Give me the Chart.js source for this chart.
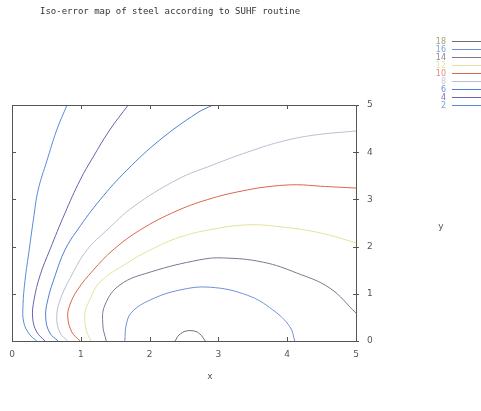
<!DOCTYPE html>
<html>
<head>
<meta charset="utf-8">
<script src="https://cdn.jsdelivr.net/npm/chart.js@4.4.1/dist/chart.umd.min.js"></script>
<style>
  html, body { margin: 0; padding: 0; background: #fff; }
  #wrap { width: 481px; height: 411px; }
</style>
</head>
<body>
<div id="wrap"><canvas id="isoChart" width="481" height="411"></canvas></div>
<script>
// chart text
const titleText = 'Iso-error map of steel according to SUHF routine';
const xTicks = [0, 1, 2, 3, 4, 5];
const yTicks = [0, 1, 2, 3, 4, 5];

// contour levels, in legend order
const levels = [18, 16, 14, 12, 10, 8, 6, 4, 2];
const levelColors = ['#6e6e6e', '#6f90d8', '#7a7890', '#e4e29a', '#d8684e', '#bdbdd0', '#4f7fd0', '#6a60b4', '#5b8bd6'];
const labelColors = ['#a3a37a', '#7ea2e0', '#8a8a9a', '#e6e4a8', '#e08a78', '#c8c8d8', '#6a92d8', '#7c74c0', '#78a0dc'];

// iso-error lines, [x, y]
const lvl18 = [[2.37, 0], [2.43, 0.13], [2.53, 0.21], [2.65, 0.21], [2.73, 0.15], [2.81, 0]];
const lvl16 = [[4.11, 0], [4.04, 0.30], [3.79, 0.66], [3.42, 0.97], [2.88, 1.14], [2.44, 1.08], [2.01, 0.87], [1.74, 0.61], [1.66, 0.34], [1.64, 0]];
const lvl14 = [[5.0, 0.59], [4.62, 1.12], [4.14, 1.44], [3.65, 1.67], [3.07, 1.76], [2.73, 1.72], [2.01, 1.46], [1.57, 1.19], [1.35, 0.76], [1.32, 0.34], [1.37, 0]];
const lvl12 = [[5.0, 2.08], [4.48, 2.29], [3.90, 2.42], [3.42, 2.46], [2.92, 2.37], [2.44, 2.2], [2.01, 1.93], [1.67, 1.65], [1.28, 1.25], [1.13, 0.87], [1.06, 0.59], [1.08, 0.23], [1.15, 0]];
const lvl10 = [[5.0, 3.24], [4.48, 3.28], [4.14, 3.31], [3.79, 3.28], [3.42, 3.2], [2.92, 3.03], [2.40, 2.76], [1.86, 2.35], [1.47, 1.93], [1.18, 1.5], [0.95, 1.08], [0.84, 0.76], [0.81, 0.51], [0.87, 0.19], [0.99, 0]];
const lvl8 = [[5.0, 4.45], [4.38, 4.36], [3.90, 4.22], [3.42, 4.0], [2.92, 3.73], [2.40, 3.42], [1.76, 2.84], [1.38, 2.35], [1.09, 1.93], [0.87, 1.4], [0.70, 0.87], [0.65, 0.49], [0.70, 0.17], [0.81, 0]];
const lvl6 = [[2.92, 5.0], [2.69, 4.83], [2.15, 4.26], [1.67, 3.62], [1.28, 2.99], [0.95, 2.35], [0.77, 1.93], [0.63, 1.4], [0.52, 0.87], [0.49, 0.49], [0.55, 0.17], [0.67, 0]];
const lvl4 = [[1.69, 5.0], [1.42, 4.47], [1.18, 3.9], [0.99, 3.41], [0.77, 2.71], [0.55, 1.93], [0.41, 1.4], [0.32, 0.87], [0.30, 0.49], [0.36, 0.19], [0.48, 0]];
const lvl2 = [[0.80, 5.0], [0.65, 4.47], [0.51, 3.83], [0.38, 3.2], [0.31, 2.56], [0.25, 1.93], [0.19, 1.29], [0.16, 0.76], [0.17, 0.4], [0.25, 0.15], [0.36, 0]];

const lines = [lvl18, lvl16, lvl14, lvl12, lvl10, lvl8, lvl6, lvl4, lvl2];

const datasets = levels.map((lv, i) => ({
    label: String(lv),
    data: lines[i].map(p => ({ x: p[0], y: p[1] })),
    borderColor: levelColors[i],
    borderWidth: 1,
    showLine: true,
    tension: 0.4,
    pointRadius: 0,
    fill: false
}));

// frame, inward ticks, title, legend, axis names
const gnuplotLook = {
    id: 'gnuplotLook',
    afterDatasetsDraw(chart) {
        const ctx = chart.ctx;
        const a = chart.chartArea;
        const xs = chart.scales.x, ys = chart.scales.y;
        ctx.save();
        ctx.strokeStyle = '#555';
        ctx.lineWidth = 1;
        ctx.strokeRect(a.left + 0.5, a.top + 0.5, a.right - a.left, a.bottom - a.top);
        ctx.beginPath();
        xTicks.forEach(v => {
            const px = Math.round(xs.getPixelForValue(v)) + 0.5;
            ctx.moveTo(px, a.bottom); ctx.lineTo(px, a.bottom - 4);
            ctx.moveTo(px, a.top); ctx.lineTo(px, a.top + 4);
        });
        yTicks.forEach(v => {
            const py = Math.round(ys.getPixelForValue(v)) + 0.5;
            ctx.moveTo(a.left, py); ctx.lineTo(a.left + 4, py);
            ctx.moveTo(a.right - 3, py); ctx.lineTo(a.right + 3, py);
        });
        ctx.stroke();

        ctx.fillStyle = '#333';
        ctx.font = '9px "DejaVu Sans Mono"';
        ctx.textBaseline = 'middle';
        ctx.textAlign = 'left';
        ctx.fillText(titleText, 40, 12);

        ctx.font = '9px "DejaVu Sans"';
        ctx.fillStyle = '#555';
        ctx.textAlign = 'center';
        ctx.fillText('x', 210, 377);
        ctx.fillText('y', 441, 227);

        ctx.font = '8px "DejaVu Sans"';
        ctx.textAlign = 'right';
        chart.data.datasets.forEach((ds, i) => {
            const ly = Math.round(41 + i * 8) + 0.5;
            ctx.fillStyle = labelColors[i];
            ctx.fillText(ds.label, 446, ly);
            ctx.strokeStyle = ds.borderColor;
            ctx.beginPath();
            ctx.moveTo(452, ly); ctx.lineTo(481, ly);
            ctx.stroke();
        });
        ctx.restore();
    }
};

new Chart(document.getElementById('isoChart'), {
    type: 'scatter',
    data: { datasets },
    options: {
        responsive: false,
        animation: false,
        devicePixelRatio: 1,
        layout: { padding: { left: 12, top: 105, right: 0, bottom: 0 } },
        plugins: { legend: { display: false }, tooltip: { enabled: false } },
        scales: {
            x: {
                type: 'linear', min: 0, max: 5,
                afterFit: s => { s.height = 70; },
                afterBuildTicks: s => { s.ticks = xTicks.map(v => ({ value: v })); },
                grid: { display: false, drawTicks: false },
                border: { display: false },
                ticks: { padding: 8, color: '#555', font: { family: 'DejaVu Sans', size: 9 } }
            },
            y: {
                type: 'linear', position: 'right', min: 0, max: 5,
                afterFit: s => { s.width = 125; },
                afterBuildTicks: s => { s.ticks = yTicks.map(v => ({ value: v })); },
                grid: { display: false, drawTicks: false },
                border: { display: false },
                ticks: { padding: 11, color: '#555', font: { family: 'DejaVu Sans', size: 9 } }
            }
        }
    },
    plugins: [gnuplotLook]
});
</script>
</body>
</html>
